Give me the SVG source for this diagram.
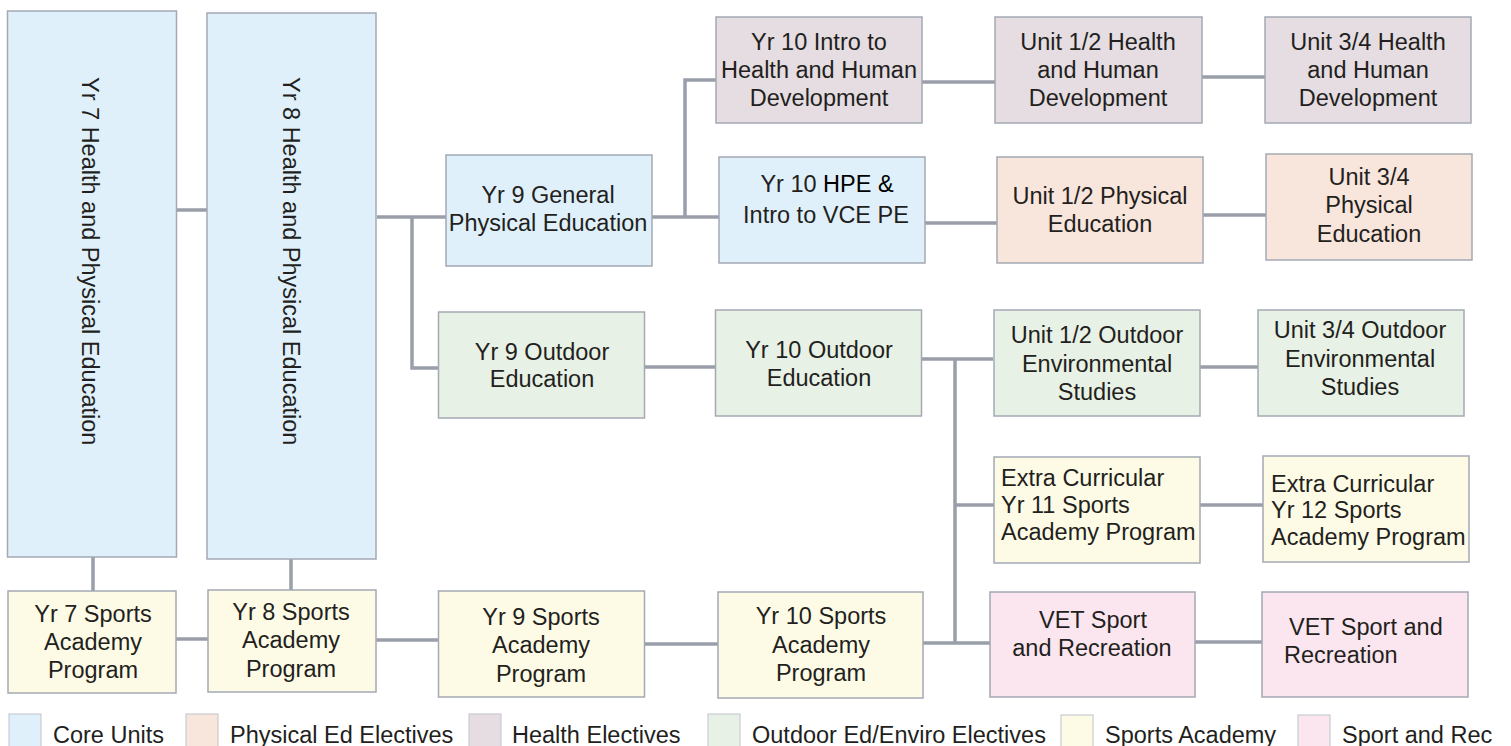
<svg xmlns="http://www.w3.org/2000/svg" width="1511" height="746" viewBox="0 0 1511 746">
<style>
.box{stroke:#a4a9b4;stroke-width:1.5}
.core{fill:#dff0fa}.pe{fill:#f8e5dc}.hl{fill:#e5dde2}.od{fill:#e8f1e5}.sa{fill:#fdfbe6}.sr{fill:#fbe6ef}
.t{font-family:"Liberation Sans",Arial,sans-serif;font-size:23.5px;fill:#231f20}
.c{text-anchor:middle}
.con{stroke:#999ea9;stroke-width:3.5;fill:none}
.lg{stroke:#c9ccd3;stroke-width:1.2}
</style>
<rect width="1511" height="746" fill="#ffffff"/>
<g id="connectors">
<path class="con" d="M177,210H207"/>
<path class="con" d="M377,217H446"/>
<path class="con" d="M412,217V368H438"/>
<path class="con" d="M652,217H719"/>
<path class="con" d="M685,217V80H716"/>
<path class="con" d="M922,82H995"/>
<path class="con" d="M1202,77H1265"/>
<path class="con" d="M925,223H997"/>
<path class="con" d="M1203,215H1266"/>
<path class="con" d="M644,367H715"/>
<path class="con" d="M921,359H993"/>
<path class="con" d="M955,359V643"/>
<path class="con" d="M1200,367H1258"/>
<path class="con" d="M955,505H994"/>
<path class="con" d="M1200,505H1263"/>
<path class="con" d="M923,643H990"/>
<path class="con" d="M1195,642H1262"/>
<path class="con" d="M93,557V591"/>
<path class="con" d="M291,559V590"/>
<path class="con" d="M176,639H208"/>
<path class="con" d="M376,640H438"/>
<path class="con" d="M644,644H718"/>
</g>
<g id="yr7">
<rect class="box core" x="7.5" y="11" width="169" height="546"/>
<text class="t" transform="translate(82,77) rotate(90)">Yr 7 Health and Physical Education</text>
</g>
<g id="yr8">
<rect class="box core" x="207" y="13" width="169" height="546"/>
<text class="t" transform="translate(283,77) rotate(90)">Yr 8 Health and Physical Education</text>
</g>
<g id="yr9gen">
<rect class="box core" x="446" y="155" width="206" height="111"/>
<text class="t c" x="548" y="203">Yr 9 General</text>
<text class="t c" x="548" y="231">Physical Education</text>
</g>
<g id="yr10intro">
<rect class="box hl" x="716" y="17" width="206" height="106"/>
<text class="t c" x="819" y="50">Yr 10 Intro to</text>
<text class="t c" x="819" y="78">Health and Human</text>
<text class="t c" x="819" y="106">Development</text>
</g>
<g id="yr10hpe">
<rect class="box core" x="719" y="157" width="206" height="106"/>
<text class="t c" x="827" y="192">Yr 10 <tspan fill="#000">HPE &amp;</tspan></text>
<text class="t c" x="826" y="223">Intro to VCE PE</text>
</g>
<g id="u12health">
<rect class="box hl" x="995" y="17" width="207" height="106"/>
<text class="t c" x="1098" y="50">Unit 1/2 Health</text>
<text class="t c" x="1098" y="78">and Human</text>
<text class="t c" x="1098" y="106">Development</text>
</g>
<g id="u34health">
<rect class="box hl" x="1265" y="17" width="206" height="106"/>
<text class="t c" x="1368" y="50">Unit 3/4 Health</text>
<text class="t c" x="1368" y="78">and Human</text>
<text class="t c" x="1368" y="106">Development</text>
</g>
<g id="u12pe">
<rect class="box pe" x="997" y="157" width="206" height="106"/>
<text class="t c" x="1100" y="204">Unit 1/2 Physical</text>
<text class="t c" x="1100" y="232">Education</text>
</g>
<g id="u34pe">
<rect class="box pe" x="1266" y="154" width="206" height="106"/>
<text class="t c" x="1369" y="185">Unit 3/4</text>
<text class="t c" x="1369" y="213">Physical</text>
<text class="t c" x="1369" y="242">Education</text>
</g>
<g id="yr9out">
<rect class="box od" x="438.5" y="312" width="206" height="106"/>
<text class="t c" x="542" y="360">Yr 9 Outdoor</text>
<text class="t c" x="542" y="387">Education</text>
</g>
<g id="yr10out">
<rect class="box od" x="715.5" y="310" width="206" height="106"/>
<text class="t c" x="819" y="358">Yr 10 Outdoor</text>
<text class="t c" x="819" y="386">Education</text>
</g>
<g id="u12out">
<rect class="box od" x="994" y="310" width="206" height="106"/>
<text class="t c" x="1097" y="343">Unit 1/2 Outdoor</text>
<text class="t c" x="1097" y="372">Environmental</text>
<text class="t c" x="1097" y="400">Studies</text>
</g>
<g id="u34out">
<rect class="box od" x="1258" y="310" width="206" height="106"/>
<text class="t c" x="1360" y="338">Unit 3/4 Outdoor</text>
<text class="t c" x="1360" y="367">Environmental</text>
<text class="t c" x="1360" y="395">Studies</text>
</g>
<g id="yr11extra">
<rect class="box sa" x="994" y="457" width="206" height="106"/>
<text class="t" x="1001" y="486">Extra Curricular</text>
<text class="t" x="1001" y="513">Yr 11 Sports</text>
<text class="t" x="1001" y="540">Academy Program</text>
</g>
<g id="yr12extra">
<rect class="box sa" x="1263" y="456" width="206" height="106"/>
<text class="t" x="1271" y="492">Extra Curricular</text>
<text class="t" x="1271" y="518">Yr 12 Sports</text>
<text class="t" x="1271" y="545">Academy Program</text>
</g>
<g id="yr7sports">
<rect class="box sa" x="8" y="591" width="168" height="102"/>
<text class="t c" x="93" y="622">Yr 7 Sports</text>
<text class="t c" x="93" y="650">Academy</text>
<text class="t c" x="93" y="678">Program</text>
</g>
<g id="yr8sports">
<rect class="box sa" x="208" y="590" width="168" height="102"/>
<text class="t c" x="291" y="620">Yr 8 Sports</text>
<text class="t c" x="291" y="648">Academy</text>
<text class="t c" x="291" y="677">Program</text>
</g>
<g id="yr9sports">
<rect class="box sa" x="438.5" y="591" width="206" height="106"/>
<text class="t c" x="541" y="625">Yr 9 Sports</text>
<text class="t c" x="541" y="653">Academy</text>
<text class="t c" x="541" y="682">Program</text>
</g>
<g id="yr10sports">
<rect class="box sa" x="718" y="592" width="205" height="106"/>
<text class="t c" x="821" y="624">Yr 10 Sports</text>
<text class="t c" x="821" y="653">Academy</text>
<text class="t c" x="821" y="681">Program</text>
</g>
<g id="vet1">
<rect class="box sr" x="990" y="592" width="205" height="105"/>
<text class="t c" x="1093" y="628">VET Sport</text>
<text class="t c" x="1092" y="656">and Recreation</text>
</g>
<g id="vet2">
<rect class="box sr" x="1262" y="592" width="206" height="105"/>
<text class="t" x="1289" y="635">VET Sport and</text>
<text class="t" x="1284" y="663">Recreation</text>
</g>
<g id="legend">
<rect class="lg core" x="9" y="714" width="32" height="40"/>
<text class="t" x="53" y="743">Core Units</text>
<rect class="lg pe" x="186" y="714" width="32" height="40"/>
<text class="t" x="230" y="743">Physical Ed Electives</text>
<rect class="lg hl" x="469" y="714" width="32" height="40"/>
<text class="t" x="512" y="743">Health Electives</text>
<rect class="lg od" x="708" y="714" width="32" height="40"/>
<text class="t" x="752" y="743">Outdoor Ed/Enviro Electives</text>
<rect class="lg sa" x="1061" y="715" width="32" height="40"/>
<text class="t" x="1105" y="743">Sports Academy</text>
<rect class="lg sr" x="1298" y="715" width="32" height="40"/>
<text class="t" x="1342" y="743">Sport and Rec</text>
</g>
</svg>
